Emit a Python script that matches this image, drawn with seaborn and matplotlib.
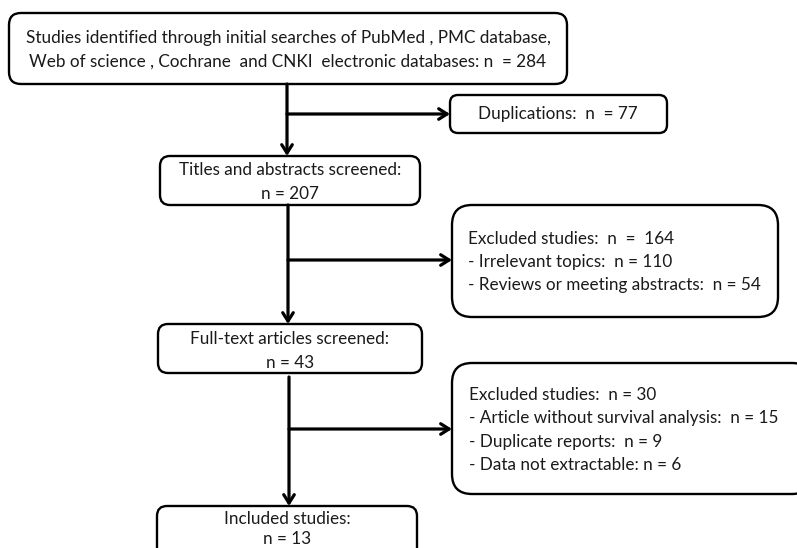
import matplotlib
matplotlib.use("Agg")
import matplotlib.pyplot as plt
import seaborn as sns
from matplotlib.patches import FancyBboxPatch

sns.set_style("white")
plt.rcParams['font.family'] = ['Lato', 'DejaVu Sans']

# ---- flow data ----
stages = ["Studies identified through initial searches of PubMed , PMC database,\n"
          "Web of science , Cochrane  and CNKI  electronic databases:",
          "Titles and abstracts screened:",
          "Full-text articles screened:",
          "Included studies:"]
stage_n = [284, 207, 43, 13]

dup_label = "Duplications:"
dup_n = 77

excl1_reasons = ["Irrelevant topics", "Reviews or meeting abstracts"]
excl1_n = [110, 54]
excl1_total = 164

excl2_reasons = ["Article without survival analysis", "Duplicate reports", "Data not extractable"]
excl2_n = [15, 9, 6]
excl2_total = 30

# ---- layout (pixels) ----
W, H = 797, 548
fig = plt.figure(figsize=(W / 100, H / 100), dpi=100)
ax = fig.add_axes([0, 0, 1, 1])
ax.set_xlim(0, W)
ax.set_ylim(H, 0)
ax.set_axis_off()

FS = 12.3
LS = 1.56
LW_BOX = 1.7
LW_ARROW = 2.3
TXT = "#1a1a1a"


def box(x0, y0, x1, y1, r):
    p = FancyBboxPatch((x0, y0), x1 - x0, y1 - y0,
                       boxstyle=f"round,pad=0,rounding_size={r}",
                       fc="white", ec="black", lw=LW_BOX, clip_on=True)
    ax.add_patch(p)


def arrow(x0, y0, x1, y1):
    ax.annotate("", xy=(x1, y1), xytext=(x0, y0),
                arrowprops=dict(arrowstyle="->,head_length=0.6,head_width=0.38",
                                color="black", lw=LW_ARROW, shrinkA=0, shrinkB=0))


# boxes
box(9, 13, 567, 84, 12)
box(450, 95, 667, 133, 8)
box(160, 156, 420, 205, 10)
box(452, 205, 778, 317, 20)
box(158, 324, 422, 373, 10)
box(452, 363, 812, 494, 20)
box(157, 506, 417, 570, 10)

# connectors
arrow(287, 84, 287, 156)
arrow(287, 114, 450, 114)
arrow(288, 205, 288, 324)
arrow(288, 260, 452, 260)
arrow(289, 377, 289, 506)
arrow(289, 429, 452, 429)

# texts
ax.text(288, 50, f"{stages[0]} n  = {stage_n[0]}", ha="center", va="center",
        fontsize=FS, linespacing=LS, color=TXT)
ax.text(290, 182, f"{stages[1]}\nn = {stage_n[1]}", ha="center", va="center",
        fontsize=FS, linespacing=LS, color=TXT)
ax.text(290, 351, f"{stages[2]}\nn = {stage_n[2]}", ha="center", va="center",
        fontsize=FS, linespacing=LS, color=TXT)
ax.text(287, 529, f"{stages[3]}\nn = {stage_n[3]}", ha="center", va="center",
        fontsize=FS, linespacing=1.38, color=TXT)
ax.text(558, 114, f"{dup_label}  n  = {dup_n}", ha="center", va="center",
        fontsize=FS, color=TXT)

ex1 = [f"Excluded studies:  n  =  {excl1_total}"] + \
      [f"- {r}:  n = {n}" for r, n in zip(excl1_reasons, excl1_n)]
ax.text(468, 262, "\n".join(ex1), ha="left", va="center", fontsize=FS,
        linespacing=LS, color=TXT)

ex2 = [f"Excluded studies:  n = {excl2_total}"] + \
      [f"- {r}:  n = {n}" for r, n in zip(excl2_reasons[:2], excl2_n[:2])] + \
      [f"- {excl2_reasons[2]}: n = {excl2_n[2]}"]
ax.text(469, 430, "\n".join(ex2), ha="left", va="center", fontsize=FS,
        linespacing=LS, color=TXT)

fig.savefig("out.png", dpi=100, facecolor="white")
